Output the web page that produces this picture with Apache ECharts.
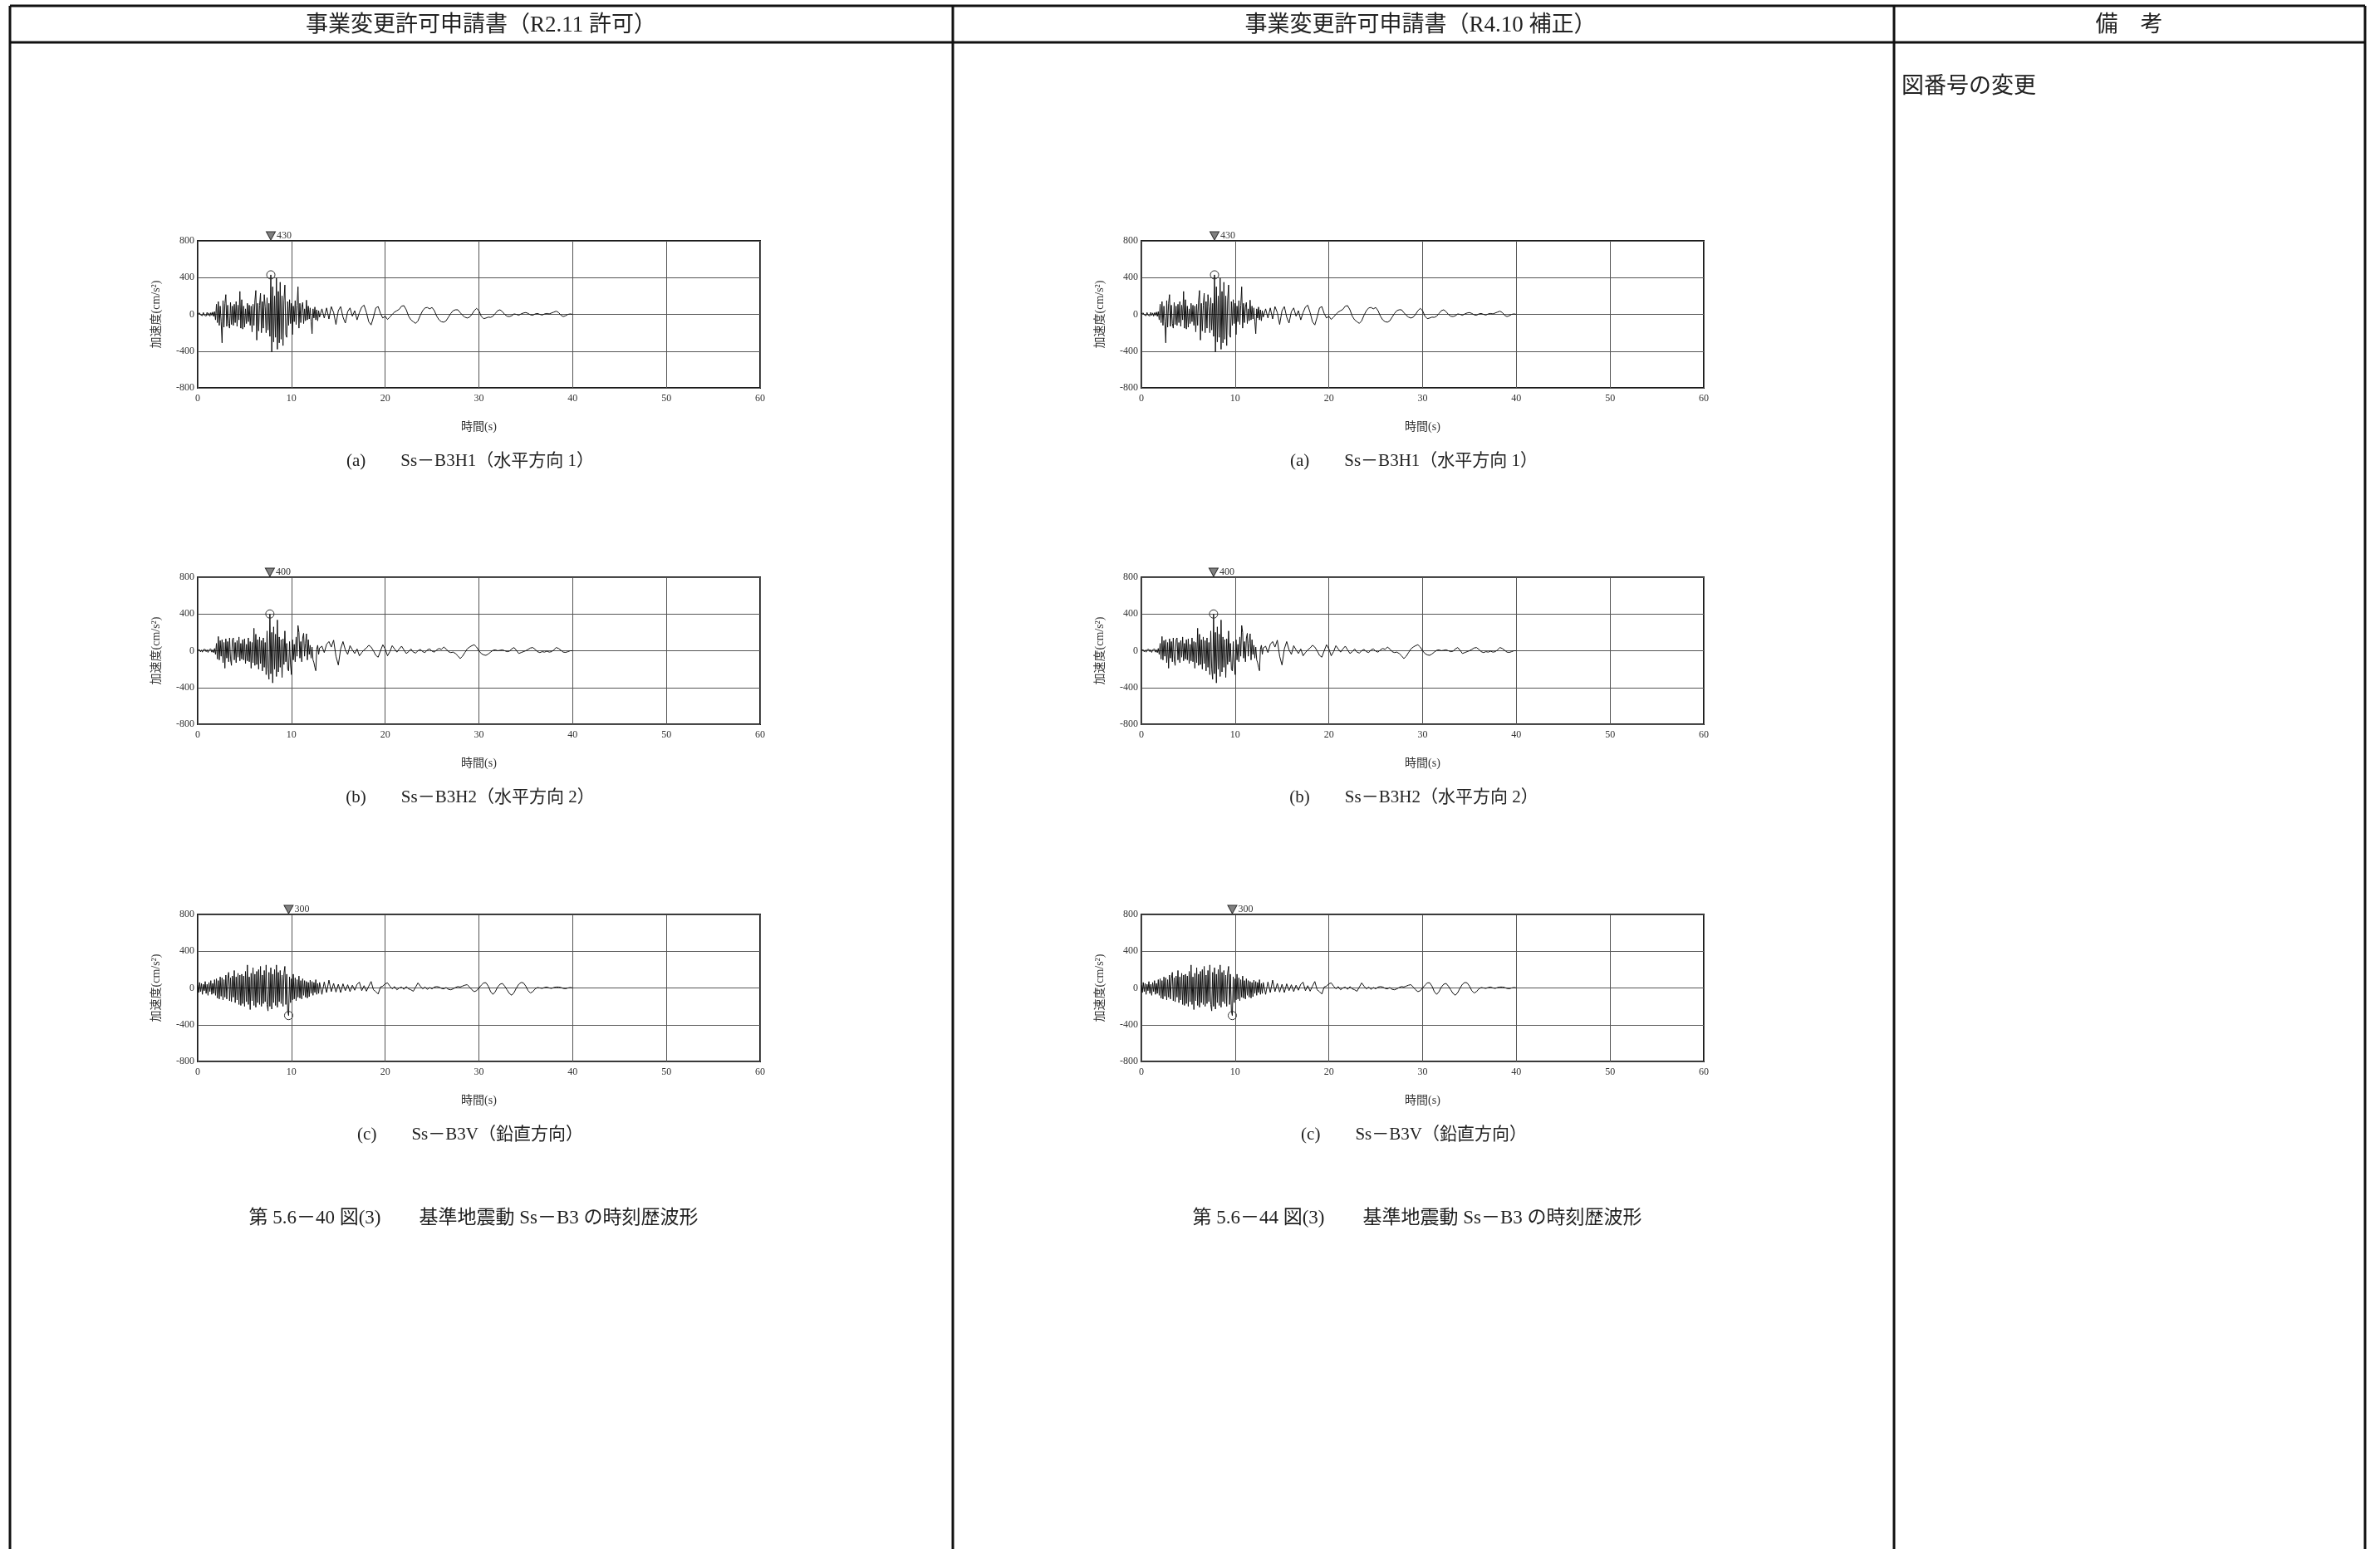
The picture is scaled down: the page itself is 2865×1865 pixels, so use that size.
<!DOCTYPE html>
<html>
<head>
<meta charset="utf-8">
<title>基準地震動 Ss－B3 の時刻歴波形</title>
<script src="https://cdn.jsdelivr.net/npm/echarts@6/dist/echarts.min.js"></script>
<style>
html, body { margin: 0; padding: 0; background: #fff; }
#page { width: 2865px; height: 1865px; }
</style>
</head>
<body>
<div id="page"></div>
<script>
// 加速度 (cm/s2) : 0～13s は 0.1s 刻み、13.25～40s は 0.25s 刻み
const DENSE_DT = 0.1
const TAIL_START = 13.25
const TAIL_DT = 0.25

const h1Dense = [
  5, -10, 15, -5, 12, -15, 20, -8, 10, -18,
  22, -12, 15, -20, 18, -10, 25, -22, 30, -60,
  110, -90, 140, -120, 90, -80, -310, 150, -140, 120,
  215, -130, 100, -100, -150, 130, -110, 90, -120, 110,
  -90, 140, -130, 100, -60, 250, -150, 160, -160, 90,
  -140, 60, -100, 120, -80, 100, -120, 90, -190, 110,
  -120, 150, 260, -280, 120, -180, 100, 230, -200, 140,
  -150, 215, 80, -200, 180, -170, 120, -240, 430, -410,
  300, -300, 200, -250, 395, -380, 250, -310, 350, -270,
  200, -340, 150, 320, -220, -250, 140, -120, 160, -100,
  120, -220, 90, -80, 150, -110, 100, 300, -150, 120,
  -90, 80, 130, -100, 60, -70, 155, -60, 90, -50,
  70, -80, -210, 60, -40, 80, -60, 50, -70, 40,
  -30
]
const h1Tail = [
  60, -40, 70, -50, 85, 20, -110, 40, 85, -30, -95, 30,
  70, -20, 40, -60, 20, 80, 100, 20, -80, -115, -30, 70,
  85, 10, -40, -20, -55, -30, 0, 25, 40, 55, 90, 95,
  50, -20, -60, -80, -98, -70, -10, 40, 70, 75, 60, 75,
  40, -20, -60, -80, -85, -70, -30, 10, 40, 50, 50, 20,
  -10, -30, -40, -30, 0, 40, 65, 40, -20, -47, -40, -30,
  -33, -20, 10, 40, 50, 30, 0, -20, -24, -15, 5, 0,
  -10, 5, 15, 20, 10, -5, -10, 5, 10, 0, -8, 5,
  10, 5, 15, 25, 35, 20, -10, -24, -15, 0, 5, 0
]

const h2Dense = [
  5, -8, 10, -12, 8, -15, 12, -5, 15, -10,
  12, -18, 10, -8, 20, -15, 10, -20, 25, -40,
  80, -90, 155, -100, 110, -60, 120, -130, 90, -190,
  130, -80, 100, -120, 140, -90, -160, 120, 140, -100,
  90, -130, 110, -70, 150, -110, 80, -90, 120, -100,
  130, -140, 70, -110, 140, -120, 100, -190, 90, -130,
  245, -160, 180, -150, 120, -200, 150, -140, 110, -220,
  140, -180, 90, -260, 215, -200, -310, 400, -250, 200,
  -350, 260, -200, 180, -280, 335, -230, 150, -180, 120,
  -290, 130, -150, 215, -120, 80, -200, -220, 100, -150,
  -260, 120, -100, 70, -120, 150, -60, 275, 200, -80,
  100, -120, 140, 190, -60, 80, 185, -100, 120, -40,
  60, -80, 40, -100, -130, -180, -218, 20, 60, -40,
  30
]
const h2Tail = [
  50, -20, 70, 100, 40, 115, -60, -155, 20, 100, 10, -40,
  55, 10, -30, 20, -55, -20, 10, 30, 60, 40, 0, -50,
  -70, 0, 65, 20, -55, -10, 55, 20, -15, 20, 50, 10,
  -30, -10, 20, -15, -25, 0, 15, -10, -20, 10, 20, -5,
  -15, 10, 25, 15, 40, 20, -10, -20, -15, -30, -55, -85,
  -60, -20, 20, 40, 55, 65, 40, 0, -30, -45, -50, -35,
  -15, 5, 10, 0, 5, 10, 0, -10, -5, 20, 35, 5,
  -30, -20, -10, 0, 15, 30, 35, 15, -10, -20, -10, -15,
  -5, -15, -10, 10, 35, 25, 5, -15, -18, -10, 0, 0
]

const vDense = [
  30, -50, 60, -40, 50, -70, 40, -30, 70, -60,
  40, -80, 60, -40, 80, -70, 50, -60, 90, -80,
  100, -110, 80, -120, 120, -90, 110, -130, 90, -100,
  140, -120, 100, 170, -140, 110, -150, 130, -100, 190,
  -160, 120, -130, 160, -180, 140, -190, 150, -170, 130,
  -200, 180, -150, 250, -180, 120, -235, 160, -140, 220,
  -190, 150, -210, 180, -160, 200, -180, 235, -200, 140,
  -170, 190, -150, 250, -180, -250, 170, -200, 220, -230,
  150, -160, 200, -190, 250, -210, 170, -150, 190, -170,
  140, -200, 160, 235, -180, 150, -250, -300, 120, -160,
  100, -130, 150, -120, 110, -140, 90, -100, 130, -110,
  80, -120, 100, -80, 80, -100, 70, -110, 60, -95,
  85, -60, 70, -80, 60, -50, 90, -70, 50, -60,
  60
]
const vTail = [
  -70, 65, -50, 85, -40, 50, -45, 40, -50, 45, -30, 35,
  -40, 30, -25, 40, 63, -30, 25, -35, 20, 70, -20, -40,
  -66, 10, 20, 45, 55, 20, -10, 15, -20, 0, 10, -15,
  15, -10, -20, -36, 10, 55, 20, -10, 10, -15, 5, -10,
  10, 15, 10, -5, -10, 5, -15, -20, -10, 5, 15, 10,
  20, 30, 36, 10, -20, -40, -30, 0, 30, 55, 57, 20,
  -40, -70, -40, 10, 40, 50, 20, -20, -60, -79, -50, 0,
  40, 60, 55, 20, -30, -55, -40, -10, 5, 0, -5, 5,
  10, 0, -5, 5, 10, 10, 5, -5, -8, 0, 5, 0
]

const peakTimes = [7.8, 7.7, 9.7]
const peakValues = [430, 400, -300]
const peakLabels = ['430', '400', '300']

const captions = [
  '(a)　　Ss－B3H1（水平方向 1）',
  '(b)　　Ss－B3H2（水平方向 2）',
  '(c)　　Ss－B3V（鉛直方向）'
]
const headers = ['事業変更許可申請書（R2.11 許可）', '事業変更許可申請書（R4.10 補正）', '備　考']
const figCaptions = [
  '第 5.6－40 図(3)　　基準地震動 Ss－B3 の時刻歴波形',
  '第 5.6－44 図(3)　　基準地震動 Ss－B3 の時刻歴波形'
]
const remark = '図番号の変更'

const xMin = 0
const xMax = 60
const xStep = 10
const yMin = -800
const yMax = 800
const yStep = 400
const xName = '時間(s)'
const yName = '加速度(cm/s²)'

const waves = [[h1Dense, h1Tail], [h2Dense, h2Tail], [vDense, vTail]]

const FONT = "'Liberation Serif', 'Noto Sans CJK JP', serif"
const colLeft = [238, 1374]
const rowTop = [290, 695, 1101]
const plotW = 677
const plotH = 177
const colCenter = [576, 1712]

function toPairs (dense, tail) {
  const pts = dense.map((v, i) => [Math.round(i * DENSE_DT * 100) / 100, v])
  tail.forEach((v, i) => pts.push([TAIL_START + i * TAIL_DT, v]))
  return pts
}

function text (str, x, y, size, align, color) {
  return {
    type: 'text',
    silent: true,
    style: {
      text: str,
      x: x,
      y: y,
      fontSize: size,
      fontFamily: FONT,
      fill: color || '#222',
      align: align || 'center',
      verticalAlign: 'middle'
    }
  }
}

function line (x1, y1, x2, y2) {
  return {
    type: 'line',
    silent: true,
    shape: { x1: x1, y1: y1, x2: x2, y2: y2 },
    style: { stroke: '#111', lineWidth: 3 }
  }
}

const grids = []
const xAxes = []
const yAxes = []
const series = []
const graphics = []

// 表の罫線
const tableX = [12, 1147, 2280, 2847]
graphics.push(line(tableX[0], 7, tableX[3], 7))
graphics.push(line(tableX[0], 51, tableX[3], 51))
tableX.forEach(x => graphics.push(line(x, 7, x, 1865)))
graphics.push(text(headers[0], 579, 31, 27))
graphics.push(text(headers[1], 1710, 31, 27))
graphics.push(text(headers[2], 2563, 31, 27))
graphics.push(text(remark, 2289, 105, 27, 'left'))

colLeft.forEach((left, c) => {
  waves.forEach((w, r) => {
    const k = grids.length
    grids.push({
      left: left,
      top: rowTop[r],
      width: plotW,
      height: plotH,
      show: true,
      borderColor: '#1a1a1a',
      borderWidth: 2,
      backgroundColor: 'transparent'
    })
    xAxes.push({
      gridIndex: k,
      type: 'value',
      min: xMin,
      max: xMax,
      interval: xStep,
      axisLine: { show: false },
      axisTick: { show: false },
      splitLine: { lineStyle: { color: '#555', width: 1 } },
      axisLabel: { fontFamily: FONT, fontSize: 12, color: '#333', margin: 7 },
      name: xName,
      nameLocation: 'middle',
      nameGap: 40,
      nameTextStyle: { fontFamily: FONT, fontSize: 14, color: '#333' }
    })
    yAxes.push({
      gridIndex: k,
      type: 'value',
      min: yMin,
      max: yMax,
      interval: yStep,
      axisLine: { show: false },
      axisTick: { show: false },
      splitLine: { lineStyle: { color: '#555', width: 1 } },
      axisLabel: { fontFamily: FONT, fontSize: 12, color: '#333', margin: 4 },
      name: yName,
      nameLocation: 'middle',
      nameRotate: 90,
      nameGap: 43,
      nameTextStyle: { fontFamily: FONT, fontSize: 14, color: '#333' }
    })
    series.push({
      type: 'line',
      xAxisIndex: k,
      yAxisIndex: k,
      data: toPairs(w[0], w[1]),
      showSymbol: false,
      symbol: 'none',
      silent: true,
      lineStyle: { color: '#111', width: 1 },
      markPoint: {
        silent: true,
        data: [
          {
            coord: [peakTimes[r], peakValues[r]],
            symbol: 'circle',
            symbolSize: 10,
            itemStyle: { color: 'rgba(0,0,0,0)', borderColor: '#333', borderWidth: 1 },
            label: { show: false }
          },
          {
            coord: [peakTimes[r], yMax],
            symbol: 'triangle',
            symbolRotate: 180,
            symbolSize: [11, 10],
            symbolOffset: [0, -6],
            itemStyle: { color: '#808080', borderColor: '#333', borderWidth: 1 },
            label: {
              show: true,
              position: 'right',
              distance: 1,
              formatter: peakLabels[r],
              fontFamily: FONT,
              fontSize: 12,
              color: '#333'
            }
          }
        ]
      }
    })
    graphics.push(text(captions[r], colCenter[c] - 10, rowTop[r] + 265, 21))
  })
  graphics.push(text(figCaptions[c], colCenter[c] - 6, 1467, 23))
})

const chart = echarts.init(document.getElementById('page'))
chart.setOption({
  animation: false,
  backgroundColor: '#fff',
  grid: grids,
  xAxis: xAxes,
  yAxis: yAxes,
  series: series,
  graphic: graphics
})
</script>
</body>
</html>
